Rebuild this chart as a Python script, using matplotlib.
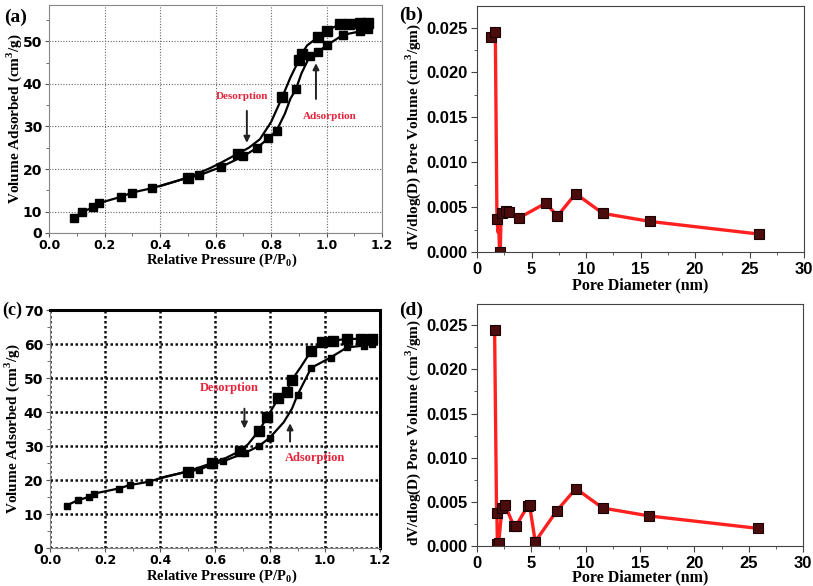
import matplotlib.pyplot as plt
from matplotlib.ticker import MultipleLocator, FixedLocator

# --- panel (a): N2 isotherm ---
ads_a_x = [0.09, 0.12, 0.16, 0.18, 0.26, 0.30, 0.37, 0.45, 0.50, 0.54, 0.62, 0.70, 0.75, 0.79,
           0.82, 0.85, 0.87, 0.89, 0.91, 0.94, 0.97, 1.00, 1.06, 1.12, 1.15]
ads_a_y = [8.5, 10, 11, 12, 13.5, 14.5, 15.5, 17, 18, 18.5, 20.5, 23, 25, 27.2,
           29, 33, 36.5, 38.8, 42.5, 46.5, 47.5, 49, 51.5, 52.3, 52.8]
ads_a_mark = [0, 1, 2, 3, 4, 5, 6, 8, 9, 10, 11, 12, 13, 14, 17, 19, 20, 21, 22, 23, 24]
des_a_x = [1.15, 1.12, 1.08, 1.05, 1.00, 0.97, 0.93, 0.91, 0.90, 0.87, 0.84, 0.80, 0.76,
           0.72, 0.68, 0.62, 0.58, 0.50, 0.45, 0.40]
des_a_y = [54.2, 54.2, 54, 54, 52.5, 51, 49, 47, 45.5, 41.5, 36.8, 31, 27,
           25, 23.6, 21.5, 20.2, 18, 17, 16]
des_a_mark = [0, 1, 2, 3, 4, 5, 7, 8, 10, 14, 17]
ticks_a = [5, 10, 20, 30, 40, 50]
ticklabels_a = ['0', '10', '20', '30', '40', '50']

# --- panel (c): N2 isotherm ---
ads_c_x = [0.06, 0.10, 0.14, 0.16, 0.25, 0.29, 0.36, 0.42, 0.50, 0.54, 0.59, 0.63, 0.71, 0.76,
           0.80, 0.85, 0.88, 0.90, 0.95, 1.02, 1.08, 1.14, 1.17]
ads_c_y = [12.5, 14, 15, 16, 17.5, 18.5, 19.5, 21, 22.5, 23, 24.5, 25.5, 28, 30,
           32.5, 37, 41, 45, 53, 56, 59, 59.5, 60]
ads_c_mark = [0, 1, 2, 3, 4, 5, 6, 8, 9, 10, 11, 12, 13, 14, 17, 18, 19, 20, 21, 22]
des_c_x = [1.17, 1.13, 1.08, 1.03, 0.99, 0.95, 0.91, 0.88, 0.86, 0.83, 0.79, 0.76, 0.72,
           0.69, 0.64, 0.59, 0.50, 0.40]
des_c_y = [61.5, 61.5, 61.5, 61, 60.5, 58, 53, 49.5, 46, 44, 38.5, 34.5, 30.5,
           28.5, 26.5, 25, 22.5, 20.5]
des_c_mark = [0, 1, 2, 3, 4, 5, 7, 8, 9, 10, 11, 13, 15, 16]
ticks_c = [0, 10, 20, 30, 40, 50, 60, 70]
ticklabels_c = ['0', '10', '20', '30', '40', '50', '60', '70']

# --- panel (b): pore size distribution ---
pd_b_x = [1.28, 1.68, 1.83, 1.93, 1.98, 2.05, 2.13, 2.20, 2.29, 2.68, 2.96, 3.87, 6.31, 7.38,
          9.05, 11.55, 15.9, 25.85]
pd_b_y = [0.0240, 0.02445, 0.0037, 0.0022, 0.0045, 0.0005, 0.0, 0.0035, 0.0043, 0.0046, 0.0045,
          0.0038, 0.00545, 0.0040, 0.0065, 0.0043, 0.0034, 0.0020]
pd_b_mark = [0, 1, 2, 6, 8, 9, 10, 11, 12, 13, 14, 15, 16, 17]

# --- panel (d): pore size distribution ---
pd_d_x = [1.62, 1.80, 1.84, 1.88, 1.99, 2.30, 2.60, 3.37, 3.60, 4.65, 4.84, 5.36, 7.35, 9.10,
          11.57, 15.86, 25.83]
pd_d_y = [0.02443, 0.0037, 0.0030, 0.0002, 0.0003, 0.0043, 0.0046, 0.0023, 0.0023, 0.0045,
          0.0046, 0.0005, 0.0040, 0.0065, 0.0043, 0.0034, 0.0020]
pd_d_mark = [0, 1, 3, 4, 5, 6, 7, 8, 9, 10, 11, 12, 13, 14, 15, 16]

W, H = 813, 586
fig = plt.figure(figsize=(W / 100, H / 100), dpi=100)


def px_axes(l, t, r, b):
    return fig.add_axes([l / W, 1 - b / H, (r - l) / W, (b - t) / H])


serif = dict(family='Liberation Serif', weight='bold')
red = '#e8233b'


def isotherm(ax, ads, des, ylim, yticks, ylabels, grid_style, ms_ads, ms_des, lab_x, lab_y):
    ax.plot(ads[0], ads[1], color='k', lw=1.6, marker='s', ms=ms_ads, markevery=ads[2])
    ax.plot(des[0], des[1], color='k', lw=1.6, marker='s', ms=ms_des, markevery=des[2])
    ax.set_xlim(0, 1.2)
    ax.set_ylim(*ylim)
    ax.xaxis.set_major_locator(MultipleLocator(0.2))
    ax.xaxis.set_minor_locator(MultipleLocator(0.1))
    ax.yaxis.set_major_locator(FixedLocator(yticks))
    ax.yaxis.set_minor_locator(MultipleLocator(5))
    ax.set_xticklabels([f'{v:.1f}' for v in ax.get_xticks()],
                       family='DejaVu Sans', weight='bold', fontsize=9)
    ax.set_yticklabels(ylabels, family=['Liberation Sans Narrow', 'DejaVu Sans'],
                       weight='bold', fontsize=10)
    ax.tick_params(which='both', direction='out', top=False, right=False, color='#555555')
    ax.tick_params(which='major', length=3)
    ax.tick_params(axis='x', which='major', pad=1)
    ax.tick_params(axis='y', which='major', pad=2)
    ax.tick_params(which='minor', length=2)
    ax.grid(True, which='major', **grid_style)
    ax.set_xlabel('Relative Pressure (P/P$_\\mathregular{0}$)', fontsize=10.5, va='center', **serif)
    ax.set_ylabel('Volume Adsorbed (cm$^\\mathregular{3}$/g)', fontsize=11, va='center', **serif)
    ax.xaxis.set_label_coords(0.52, lab_y)
    ax.yaxis.set_label_coords(lab_x, 0.5)


def psd(ax, x, y, mark, lab_y):
    ax.plot(x, y, color='#ff2020', lw=2.4, marker='s', ms=7.5, markevery=mark,
            mfc='#4a0c0c', mec='#1a0000', mew=0.8)
    ax.set_xlim(0, 30)
    ax.set_ylim(0, 0.0274)
    ax.xaxis.set_major_locator(MultipleLocator(5))
    ax.xaxis.set_minor_locator(MultipleLocator(2.5))
    ax.yaxis.set_major_locator(MultipleLocator(0.005))
    ax.yaxis.set_minor_locator(MultipleLocator(0.0025))
    ax.set_yticklabels([f'{v:.3f}' for v in ax.get_yticks()],
                       family='Liberation Sans', weight='bold', fontsize=12)
    ax.set_xticklabels([f'{v:g}' for v in ax.get_xticks()],
                       family='Liberation Sans', weight='bold', fontsize=12)
    ax.tick_params(which='both', direction='out', top=False, right=False, color='#444444')
    ax.tick_params(which='major', length=4, pad=3)
    ax.tick_params(which='minor', length=2.5)
    for s in ax.spines.values():
        s.set_color('#444444')
    ax.set_xlabel('Pore Diameter (nm)', fontsize=11.5, va='center', **serif)
    ax.set_ylabel('dV/dlog(D) Pore Volume (cm$^\\mathregular{3}$/gm)', fontsize=11,
                  va='center', **serif)
    ax.xaxis.set_label_coords(0.5, lab_y)
    ax.yaxis.set_label_coords(-0.196, 0.47)


# (a)
ax_a = px_axes(49, 5, 382, 233)
isotherm(ax_a, (ads_a_x, ads_a_y, ads_a_mark), (des_a_x, des_a_y, des_a_mark),
         (5, 58.5), ticks_a, ticklabels_a,
         dict(color='#666666', ls=(0, (1, 1.5)), lw=0.8), 6, 6.5, -0.105, -0.12)
for s in ax_a.spines.values():
    s.set_color('#888888')
ax_a.text(0.695, 37, 'Desorption', color=red, fontsize=8, ha='center', va='center', **serif)
ax_a.annotate('', xy=(0.713, 25.5), xytext=(0.713, 34.3),
              arrowprops=dict(arrowstyle='-|>', color='#222222', lw=1.4, mutation_scale=9))
ax_a.text(1.013, 32.3, 'Adsorption', color=red, fontsize=8, ha='center', va='center', **serif)
ax_a.annotate('', xy=(0.962, 45.5), xytext=(0.962, 35.8),
              arrowprops=dict(arrowstyle='-|>', color='#222222', lw=1.4, mutation_scale=9))

# (c)
ax_c = px_axes(50, 310, 380, 548)
isotherm(ax_c, (ads_c_x, ads_c_y, ads_c_mark), (des_c_x, des_c_y, des_c_mark),
         (0, 70), ticks_c, ticklabels_c,
         dict(color='#111111', ls=(0, (1, 1)), lw=1.8), 4.5, 6.5, -0.115, -0.12)
ax_c.spines['left'].set_color('#888888')
ax_c.spines['bottom'].set_color('#888888')
ax_c.spines['top'].set_linewidth(2.2)
ax_c.spines['right'].set_linewidth(2.2)
ax_c.text(0.65, 47, 'Desorption', color=red, fontsize=9, ha='center', va='center', **serif)
ax_c.annotate('', xy=(0.707, 34.3), xytext=(0.707, 41.8),
              arrowprops=dict(arrowstyle='-|>', color='#222222', lw=1.4, mutation_scale=9))
ax_c.text(0.964, 26.4, 'Adsorption', color=red, fontsize=9, ha='center', va='center', **serif)
ax_c.annotate('', xy=(0.873, 37.5), xytext=(0.873, 30.5),
              arrowprops=dict(arrowstyle='-|>', color='#222222', lw=1.4, mutation_scale=9))

# (b) and (d)
ax_b = px_axes(477, 6, 804, 252)
psd(ax_b, pd_b_x, pd_b_y, pd_b_mark, -0.134)
ax_d = px_axes(477, 304, 803, 546)
psd(ax_d, pd_d_x, pd_d_y, pd_d_mark, -0.13)

for lbl, x, y, fs in [('(a)', 4, 17, 14), ('(b)', 399, 15, 14), ('(c)', 2, 310, 13), ('(d)', 399, 310, 14)]:
    fig.text(x / W, 1 - y / H, lbl, fontsize=fs, ha='left', va='center', **serif)

fig.savefig('out.png', dpi=100)
